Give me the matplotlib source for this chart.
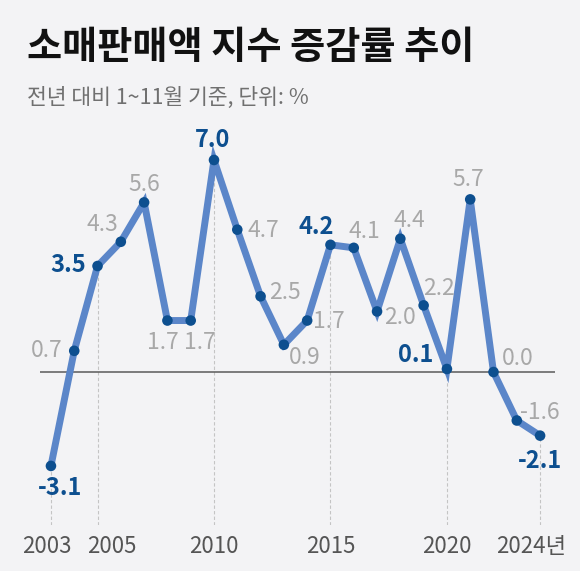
import numpy as np
import matplotlib
matplotlib.use('Agg')
import matplotlib.pyplot as plt
from matplotlib.transforms import ScaledTranslation

plt.rcParams['font.family'] = ['Noto Sans CJK KR', 'DejaVu Sans']

years = list(range(2003, 2025))
values = [-3.1, 0.7, 3.5, 4.3, 5.6, 1.7, 1.7, 7.0, 4.7, 2.5, 0.9,
          1.7, 4.2, 4.1, 2.0, 4.4, 2.2, 0.1, 5.7, 0.0, -1.6, -2.1]
tick_years = [2003, 2005, 2010, 2015, 2020, 2024]
tick_labels = ['2003', '2005', '2010', '2015', '2020', '2024년']
highlight_years = [2003, 2005, 2010, 2015, 2020, 2024]

title = '소매판매액 지수 증감률 추이'
subtitle = '전년 대비 1~11월 기준, 단위: %'

# label offsets in pixels (dx, dy) from each point
label_offsets = {
    2003: (9, -22), 2004: (-27, 0), 2005: (-29, 1), 2006: (-18, 17),
    2007: (0, 18), 2008: (-5, -22), 2009: (9, -22), 2010: (-1, 20),
    2011: (26, -1), 2012: (24, 4), 2013: (21, -13), 2014: (22, -1),
    2015: (-14, 18), 2016: (11, 16), 2017: (23, -6), 2018: (9, 18),
    2019: (15, 17), 2020: (-31, 14), 2021: (-2, 20), 2022: (24, 14),
    2023: (23, 8), 2024: (0, -25),
}
# horizontal nudges of the year labels, in pixels
tick_nudges = [-4, 14, 0, 0, 0, -9]

BG = '#f3f3f5'
LINE = '#5b86c9'
DOT = '#0d4f8f'
HL = '#0d4f8f'
GRAY = '#a8a8a8'

fig = plt.figure(figsize=(5.8, 5.71), dpi=100)
fig.patch.set_facecolor(BG)

ax = fig.add_axes([40 / 580, 46 / 571, 515 / 580, 385 / 571])
ax.set_facecolor(BG)
ax.set_xlim(2002.53, 2024.64)
ax.set_ylim(-5.05, 7.66)
for s in ax.spines.values():
    s.set_visible(False)
ax.set_yticks([])

# dashed guides from highlighted points down
for yr in tick_years:
    v = values[years.index(yr)]
    ax.plot([yr, yr], [ax.get_ylim()[0], v], color='#c4c4c4', lw=0.8,
            ls=(0, (3, 2)), zorder=1)

ax.axhline(0, color='#5a5a5a', lw=1.1, zorder=2)
ax.plot(years, values, color=LINE, lw=5, zorder=3, solid_joinstyle='miter')
ax.scatter(years, values, s=58, color=DOT, zorder=4, edgecolors='none')

for yr, v in zip(years, values):
    dx, dy = label_offsets[yr]
    hl = yr in highlight_years
    ax.annotate(f'{v:.1f}', (yr, v), xytext=(dx, dy), textcoords='offset pixels',
                ha='center', va='center', fontsize=17 if hl else 16.5,
                color=HL if hl else GRAY, fontweight='bold' if hl else 'normal',
                zorder=5)

ax.set_xticks(tick_years)
ax.set_xticklabels(tick_labels, fontsize=16, color='#555555')
ax.tick_params(axis='x', length=0, pad=7)
for lab, nd in zip(ax.get_xticklabels(), tick_nudges):
    lab.set_transform(lab.get_transform() + ScaledTranslation(nd / 100, 0, fig.dpi_scale_trans))

fig.text(27 / 580, 1 - 48 / 571, title, fontsize=27.5, fontweight='bold',
         color='#111111', ha='left', va='center')
fig.text(27 / 580, 1 - 98 / 571, subtitle, fontsize=15.5, color='#707070',
         ha='left', va='center')

fig.savefig('out.png', dpi=100, facecolor=BG)
